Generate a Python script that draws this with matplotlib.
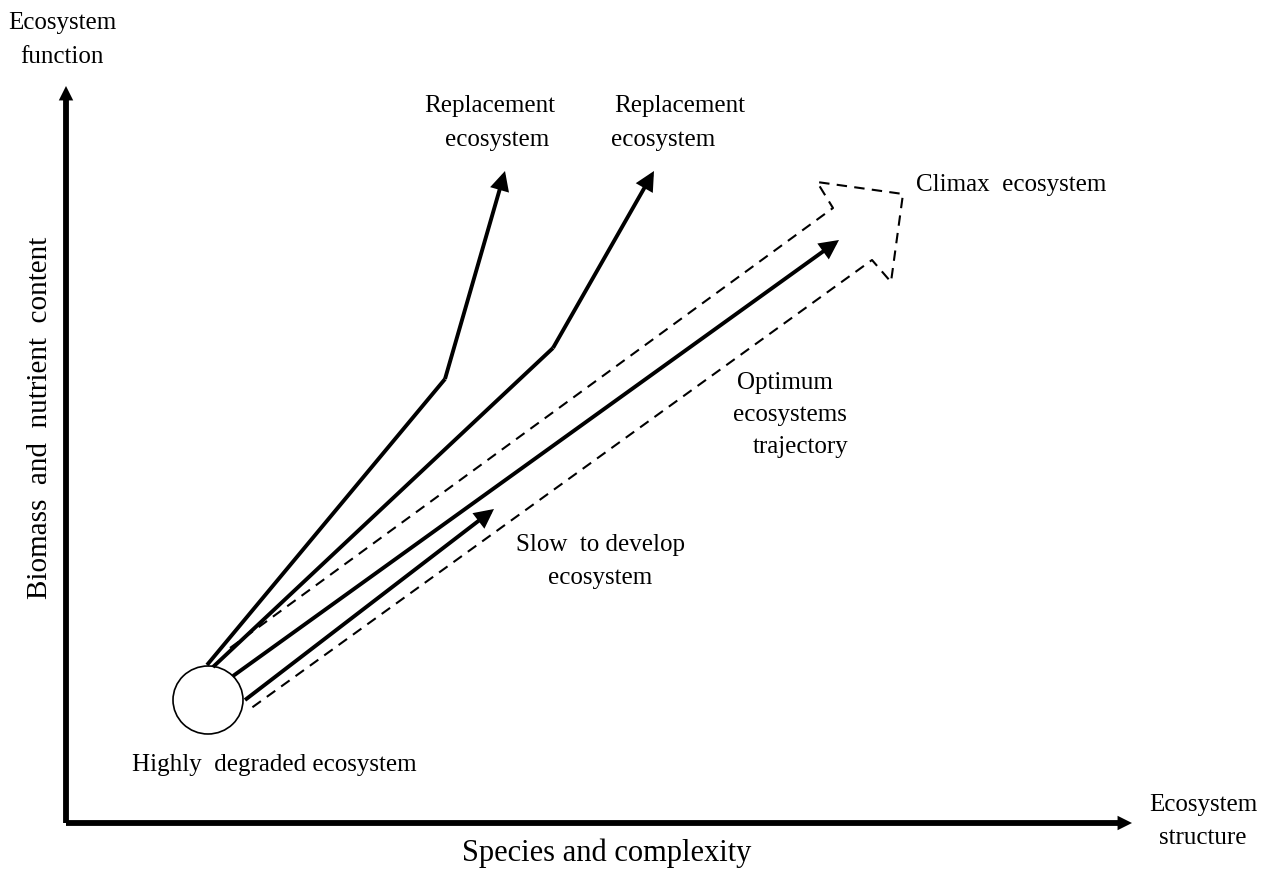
import matplotlib
matplotlib.use('Agg')
import matplotlib.pyplot as plt
from matplotlib.patches import Ellipse, FancyArrowPatch

plt.rcParams['font.family'] = ['Liberation Serif', 'DejaVu Serif']

# diagram geometry, in picture pixels (y grows downwards)
origin = (66, 823)
y_axis_top = (66, 86)
x_axis_end = (1132, 823)
degraded_centre = (208, 700)
degraded_radius = 35

# kinked "replacement" trajectories: start, kink, tip
replacement_1 = [(207, 665), (445, 379), (505, 171)]
replacement_2 = [(213, 667), (553, 348), (654, 171)]
# straight trajectories: start, tip
optimum = [(233, 676), (839, 240)]
slow = [(245, 700), (494, 509)]
# dashed outline of the big "climax" arrow
climax_outline = [(230, 648), (833, 208), (817, 182), (903, 194),
                  (891, 282), (872, 260), (250, 709)]

labels = [
    ('Ecosystem', 62, 23, 'center'),
    ('function', 62, 57, 'center'),
    ('Replacement', 490, 106, 'center'),
    ('ecosystem', 497, 140, 'center'),
    ('Replacement', 680, 106, 'center'),
    ('ecosystem', 663, 140, 'center'),
    ('Climax  ecosystem', 1011, 185, 'center'),
    ('Optimum', 737, 383, 'left'),
    ('ecosystems', 733, 415, 'left'),
    ('trajectory', 753, 447, 'left'),
    ('Slow  to develop', 600, 545, 'center'),
    ('ecosystem', 600, 578, 'center'),
    ('Highly  degraded ecosystem', 274, 765, 'center'),
    ('Ecosystem', 1203, 805, 'center'),
    ('structure', 1203, 838, 'center'),
]
x_label = ('Species and complexity', 607, 853)
y_label = ('Biomass  and  nutrient  content', 40, 418)

fig = plt.figure(figsize=(12.67, 8.71), dpi=100)
ax = fig.add_axes([0, 0, 1, 1])
ax.set_xlim(0, 1267)
ax.set_ylim(871, 0)
ax.axis('off')


def arrow(p0, p1, lw=2.8, scale=24, style='-|>'):
    ax.add_patch(FancyArrowPatch(p0, p1, arrowstyle=style, mutation_scale=scale,
                                 lw=lw, color='black', shrinkA=0, shrinkB=0,
                                 joinstyle='miter', capstyle='butt'))


# axes of the diagram
arrow(origin, y_axis_top, lw=4.2, scale=9)
arrow(origin, x_axis_end, lw=4.2, scale=9)

# degraded ecosystem circle
ax.add_patch(Ellipse(degraded_centre, 2 * degraded_radius, 2 * degraded_radius - 2,
                     fill=False, lw=1.2, color='black'))

# dashed climax arrow
xs, ys = zip(*climax_outline)
ax.plot(xs, ys, color='black', lw=1.5, ls=(0, (5, 3.5)))

for path in (replacement_1, replacement_2):
    ax.plot([path[0][0], path[1][0]], [path[0][1], path[1][1]], color='black',
            lw=2.8, solid_capstyle='butt')
    arrow(path[1], path[2])

arrow(*optimum)
arrow(*slow)

for txt, x, y, ha in labels:
    ax.text(x, y, txt, ha=ha, va='center', fontsize=18)

ax.text(x_label[1], x_label[2], x_label[0], ha='center', va='center', fontsize=22)
ax.text(y_label[1], y_label[2], y_label[0], rotation=90, ha='center',
        va='center', fontsize=21)

fig.savefig('out.png', dpi=100, facecolor='white')
